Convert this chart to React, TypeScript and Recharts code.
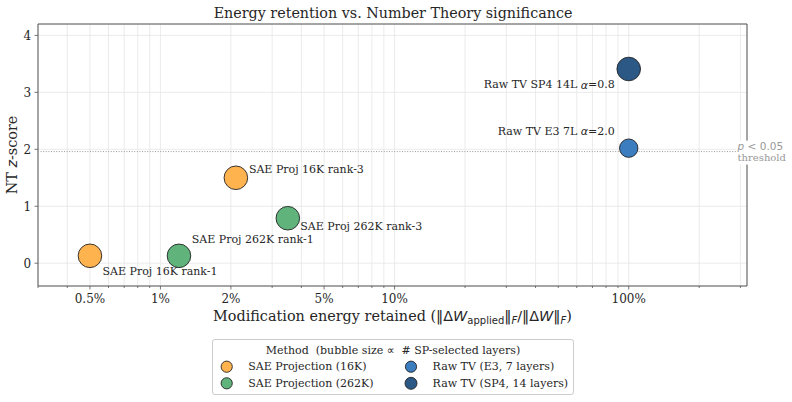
import React from 'react';
import {
  ScatterChart, Scatter, XAxis, YAxis, ZAxis, CartesianGrid,
  ReferenceLine, ReferenceArea, Label,
} from 'recharts';

const SERIF = '"DejaVu Serif", serif';
const SANS = '"DejaVu Sans", sans-serif';
const INK = '#262626';

// methods (one scatter series each)
const methods = [
  'SAE Projection (16K)',
  'SAE Projection (262K)',
  'Raw TV (E3, 7 layers)',
  'Raw TV (SP4, 14 layers)',
];
const methodColors = ['#FFB34F', '#5FB37B', '#3B7DBF', '#2B5884'];

// one entry per bubble
const pointLabels = [
  'SAE Proj 16K rank-1',
  'SAE Proj 16K rank-3',
  'SAE Proj 262K rank-1',
  'SAE Proj 262K rank-3',
  'Raw TV E3 7L α=2.0',
  'Raw TV SP4 14L α=0.8',
];
const pointMethod = [0, 0, 1, 1, 2, 3];
const energyRetained = [0.005, 0.021, 0.012, 0.035, 1.0, 1.0];
const ntZScore = [0.13, 1.5, 0.13, 0.79, 2.02, 3.41];
const spLayers = [14, 14, 14, 14, 7, 14];

const THRESHOLD = 1.96;

// axis ticks
const xMajorTicks = [0.005, 0.01, 0.02, 0.05, 0.1, 1];
const xMajorLabels = ['0.5%', '1%', '2%', '5%', '10%', '100%'];
const xMinorTicks = [
  0.003, 0.004, 0.006, 0.007, 0.008, 0.009,
  0.03, 0.04, 0.06, 0.07, 0.08, 0.09,
  0.2, 0.3, 0.4, 0.5, 0.6, 0.7, 0.8, 0.9, 2, 3,
];
const yTicks = [0, 1, 2, 3, 4];

const X_DOMAIN: [number, number] = [0.003, 3.2];
const Y_DOMAIN: [number, number] = [-0.4, 4.2];

// where each annotation sits relative to its bubble
const LABEL_LAYOUT: Record<string, { dx: number; dy: number; anchor: 'start' | 'end' }> = {
  'SAE Proj 16K rank-1': { dx: 12.6, dy: 16, anchor: 'start' },
  'SAE Proj 16K rank-3': { dx: 13, dy: -8.7, anchor: 'start' },
  'SAE Proj 262K rank-1': { dx: 12.8, dy: -16, anchor: 'start' },
  'SAE Proj 262K rank-3': { dx: 12.5, dy: 8.4, anchor: 'start' },
  'Raw TV E3 7L α=2.0': { dx: -14, dy: -16.7, anchor: 'end' },
  'Raw TV SP4 14L α=0.8': { dx: -14, dy: 15.7, anchor: 'end' },
};

const series = methods.map((name, m) => ({
  name,
  color: methodColors[m],
  data: pointLabels
    .map((label, i) => ({ label, x: energyRetained[i], y: ntZScore[i], z: spLayers[i], m: pointMethod[i] }))
    .filter(d => d.m === m),
}));

const allXTicks = [...xMajorTicks, ...xMinorTicks].sort((a, b) => a - b);

function AlphaText({ text }: { text: string }) {
  const parts = text.split('α');
  if (parts.length < 2) return <>{text}</>;
  return (
    <>
      {parts[0]}
      <tspan fontFamily={SANS} fontStyle="italic">α</tspan>
      {parts[1]}
    </>
  );
}

function Bubble(props: any) {
  const { cx, cy, fill, payload } = props;
  if (cx == null || cy == null) return null;
  const r = props.size ? Math.sqrt(props.size / Math.PI) : (props.width ?? 22) / 2;
  const lay = LABEL_LAYOUT[payload.label];
  return (
    <g>
      <circle cx={cx} cy={cy} r={r} fill={fill} stroke="#222" strokeWidth={0.9} />
      {lay && (
        <text
          x={cx + lay.dx}
          y={cy + lay.dy}
          textAnchor={lay.anchor}
          dominantBaseline="central"
          fontFamily={SERIF}
          fontSize={11}
          fill={INK}
        >
          <AlphaText text={payload.label} />
        </text>
      )}
    </g>
  );
}

function XTick({ x, y, payload }: any) {
  const i = xMajorTicks.indexOf(payload.value);
  const major = i >= 0;
  return (
    <g>
      <line x1={x} x2={x} y1={y} y2={y + (major ? 3.5 : 2)} stroke="#555" strokeWidth={0.8} />
      {major && (
        <text x={x} y={y + 17.2} textAnchor="middle" fontFamily={SERIF} fontSize={12} fill={INK}>
          {xMajorLabels[i]}
        </text>
      )}
    </g>
  );
}

function YTick({ x, y, payload }: any) {
  return (
    <g>
      <line x1={x - 3.5} x2={x} y1={y} y2={y} stroke="#555" strokeWidth={0.8} />
      <text x={x - 6.8} y={y + 4.3} textAnchor="end" fontFamily={SERIF} fontSize={12} fill={INK}>
        {payload.value}
      </text>
    </g>
  );
}

function XAxisTitle({ viewBox }: any) {
  const cx = viewBox.x + viewBox.width / 2;
  const y = viewBox.y + 35;
  return (
    <text x={cx} y={y} textAnchor="middle" fontFamily={SERIF} fontSize={14.4} fill={INK}>
      Modification energy retained (
      <tspan fontFamily={SANS}>‖Δ</tspan>
      <tspan fontFamily={SANS} fontStyle="italic">W</tspan>
      <tspan fontFamily={SANS} fontSize={10} dy={3}>applied</tspan>
      <tspan fontFamily={SANS} dy={-3}>‖</tspan>
      <tspan fontFamily={SANS} fontStyle="italic" fontSize={10} dy={3}>F</tspan>
      <tspan fontFamily={SANS} dy={-3}>/‖Δ</tspan>
      <tspan fontFamily={SANS} fontStyle="italic">W</tspan>
      <tspan fontFamily={SANS}>‖</tspan>
      <tspan fontFamily={SANS} fontStyle="italic" fontSize={10} dy={3}>F</tspan>
      <tspan dy={-3}>)</tspan>
    </text>
  );
}

function YAxisTitle({ viewBox }: any) {
  const cx = 12;
  const cy = viewBox.y + viewBox.height / 2;
  return (
    <text
      x={cx}
      y={cy}
      transform={`rotate(-90 ${cx} ${cy})`}
      textAnchor="middle"
      dominantBaseline="central"
      fontFamily={SERIF}
      fontSize={14.4}
      fill={INK}
    >
      NT <tspan fontFamily={SANS} fontStyle="italic">z</tspan>-score
    </text>
  );
}

function ThresholdLabel({ viewBox }: any) {
  const right = viewBox.x + viewBox.width;
  const y = viewBox.y;
  return (
    <g>
      <rect x={right - 11} y={y - 11} width={56} height={24} fill="#fff" />
      <text x={right - 9.4} y={y - 5.5} dominantBaseline="central" fontFamily={SANS} fontSize={10.5} fill="#999">
        <tspan fontStyle="italic">p</tspan> &lt; 0.05
      </text>
      <text x={right - 9.4} y={y + 6.3} dominantBaseline="central" fontFamily={SERIF} fontSize={10} fill="#999">
        threshold
      </text>
    </g>
  );
}

function Overlay() {
  const box = { x: 212.5, y: 339.5, w: 361, h: 55 };
  const cols = [226.7, 411];
  const rows = [366.7, 383.3];
  return (
    <svg
      width={792}
      height={402}
      style={{ position: 'absolute', left: 0, top: 0, pointerEvents: 'none' }}
    >
      <text x={393} y={17.7} textAnchor="middle" fontFamily={SERIF} fontSize={14.3} fill={INK}>
        Energy retention vs. Number Theory significance
      </text>
      <rect x={box.x} y={box.y} width={box.w} height={box.h} rx={2.5} fill="#fff" stroke="#ccc" strokeWidth={1} />
      <text
        x={box.x + box.w / 2}
        y={350}
        textAnchor="middle"
        dominantBaseline="central"
        fontFamily={SERIF}
        fontSize={11}
        fill={INK}
        style={{ whiteSpace: 'pre' }}
      >
        {'Method  (bubble size '}
        <tspan fontFamily={SANS}>∝</tspan>
        {'  # SP-selected layers)'}
      </text>
      {series.map((s, k) => {
        const cx = cols[k < 2 ? 0 : 1];
        const cy = rows[k % 2];
        return (
          <g key={s.name}>
            <circle cx={cx} cy={cy} r={k === 3 ? 6 : 5.6} fill={s.color} stroke="#222" strokeWidth={0.9} />
            <text
              x={cx + 21.6}
              y={cy}
              dominantBaseline="central"
              fontFamily={SERIF}
              fontSize={11}
              fill={INK}
            >
              {s.name}
            </text>
          </g>
        );
      })}
    </svg>
  );
}

export default function App() {
  return (
    <div style={{ position: 'absolute', left: 0, top: 0, width: 792, height: 402, background: '#fff' }}>
      <ScatterChart width={792} height={402} margin={{ top: 24, right: 45, left: 0, bottom: 86 }}>
        <CartesianGrid stroke="#e6e6e6" strokeWidth={0.8} />
        <XAxis
          dataKey="x"
          type="number"
          scale="log"
          domain={X_DOMAIN}
          allowDataOverflow
          ticks={allXTicks}
          interval={0}
          tick={<XTick />}
          tickLine={false}
          axisLine={false}
          tickSize={0}
          tickMargin={0}
          height={30}
        >
          <Label content={<XAxisTitle />} />
        </XAxis>
        <YAxis
          dataKey="y"
          type="number"
          domain={Y_DOMAIN}
          allowDataOverflow
          ticks={yTicks}
          interval={0}
          tick={<YTick />}
          tickLine={false}
          axisLine={false}
          tickSize={0}
          tickMargin={0}
          width={38}
        >
          <Label content={<YAxisTitle />} />
        </YAxis>
        <ZAxis dataKey="z" type="number" domain={[7, 14]} range={[266, 437]} />
        <ReferenceArea
          x1={X_DOMAIN[0]}
          x2={X_DOMAIN[1]}
          y1={Y_DOMAIN[0]}
          y2={Y_DOMAIN[1]}
          ifOverflow="visible"
          fill="#fff"
          fillOpacity={0}
          stroke="#555"
          strokeWidth={1}
          strokeOpacity={1}
        />
        <ReferenceLine
          y={THRESHOLD}
          stroke="#9a9a9a"
          strokeWidth={1}
          strokeDasharray="1 1.6"
          label={<ThresholdLabel />}
        />
        {series.map(s => (
          <Scatter
            key={s.name}
            name={s.name}
            data={s.data}
            fill={s.color}
            shape={<Bubble />}
            isAnimationActive={false}
          />
        ))}
      </ScatterChart>
      <Overlay />
    </div>
  );
}
